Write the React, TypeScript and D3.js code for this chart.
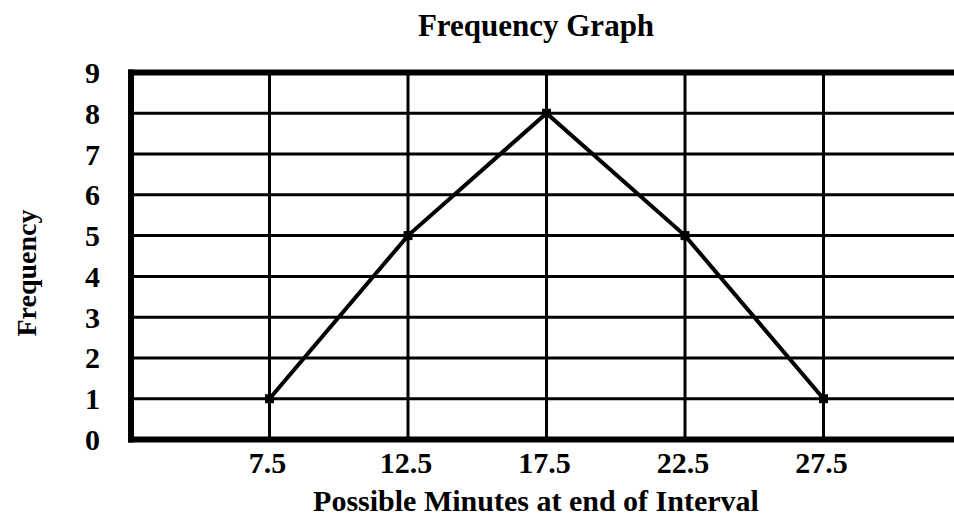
import React, { useEffect, useRef } from "react";
import * as d3 from "d3";

const minutes = [7.5, 12.5, 17.5, 22.5, 27.5];
const frequency = [1, 5, 8, 5, 1];
const yTicks = [0, 1, 2, 3, 4, 5, 6, 7, 8, 9];

const title = "Frequency Graph";
const xTitle = "Possible Minutes at end of Interval";
const yTitle = "Frequency";

const width = 954;
const height = 519;
const font = "'Liberation Serif', 'Times New Roman', serif";

export default function App() {
  const svgRef = useRef<SVGSVGElement>(null);

  useEffect(() => {
    const svg = d3.select(svgRef.current);
    svg.selectAll("*").remove();

    const x = d3.scaleLinear().domain([2.5, 32.5]).range([131, 962]);
    const y = d3.scaleLinear().domain([0, 9]).range([439.5, 72.5]);

    const grid = svg.append("g").attr("stroke", "#000").attr("stroke-width", 3);

    // horizontal grid
    grid
      .selectAll("line.h")
      .data(yTicks.filter((t) => t > 0 && t < 9))
      .join("line")
      .attr("x1", x(2.5))
      .attr("x2", width)
      .attr("y1", (d) => y(d))
      .attr("y2", (d) => y(d));

    // vertical grid
    grid
      .selectAll("line.v")
      .data(minutes)
      .join("line")
      .attr("x1", (d) => x(d))
      .attr("x2", (d) => x(d))
      .attr("y1", y(9))
      .attr("y2", y(0));

    // frame: top, left, bottom
    const frame = svg.append("g").attr("stroke", "#000").attr("stroke-width", 6);
    frame.append("line").attr("x1", x(2.5) - 3).attr("x2", width).attr("y1", y(9)).attr("y2", y(9));
    frame.append("line").attr("x1", x(2.5)).attr("x2", x(2.5)).attr("y1", y(9) - 3).attr("y2", y(0) + 3);
    frame.append("line").attr("x1", x(2.5) - 3).attr("x2", width).attr("y1", y(0)).attr("y2", y(0));

    const pts = minutes.map((m, i) => [m, frequency[i]] as [number, number]);

    const line = d3
      .line<[number, number]>()
      .x((d) => x(d[0]))
      .y((d) => y(d[1]));

    svg
      .append("path")
      .datum(pts)
      .attr("fill", "none")
      .attr("stroke", "#000")
      .attr("stroke-width", 4)
      .attr("d", line);

    svg
      .append("g")
      .selectAll("rect")
      .data(pts)
      .join("rect")
      .attr("x", (d) => x(d[0]) - 4.5)
      .attr("y", (d) => y(d[1]) - 4.5)
      .attr("width", 9)
      .attr("height", 9)
      .attr("fill", "#000");

    const text = svg
      .append("g")
      .attr("font-family", font)
      .attr("font-weight", "bold")
      .attr("fill", "#000");

    text
      .selectAll("text.y")
      .data(yTicks)
      .join("text")
      .attr("x", 100)
      .attr("y", (d) => y(d))
      .attr("dy", "0.35em")
      .attr("text-anchor", "end")
      .attr("font-size", 30)
      .text((d) => d);

    text
      .selectAll("text.x")
      .data(minutes)
      .join("text")
      .attr("x", (d) => x(d) - 2)
      .attr("y", 473)
      .attr("text-anchor", "middle")
      .attr("font-size", 30)
      .text((d) => d);

    text
      .append("text")
      .attr("x", 536)
      .attr("y", 36)
      .attr("text-anchor", "middle")
      .attr("font-size", 31)
      .text(title);

    text
      .append("text")
      .attr("x", 536)
      .attr("y", 511)
      .attr("text-anchor", "middle")
      .attr("font-size", 30)
      .text(xTitle);

    text
      .append("text")
      .attr("transform", "translate(36,273) rotate(-90)")
      .attr("text-anchor", "middle")
      .attr("font-size", 28)
      .text(yTitle);
  }, []);

  return (
    <svg
      ref={svgRef}
      width={width}
      height={height}
      style={{ position: "absolute", left: 0, top: 0, background: "#fff" }}
    />
  );
}
